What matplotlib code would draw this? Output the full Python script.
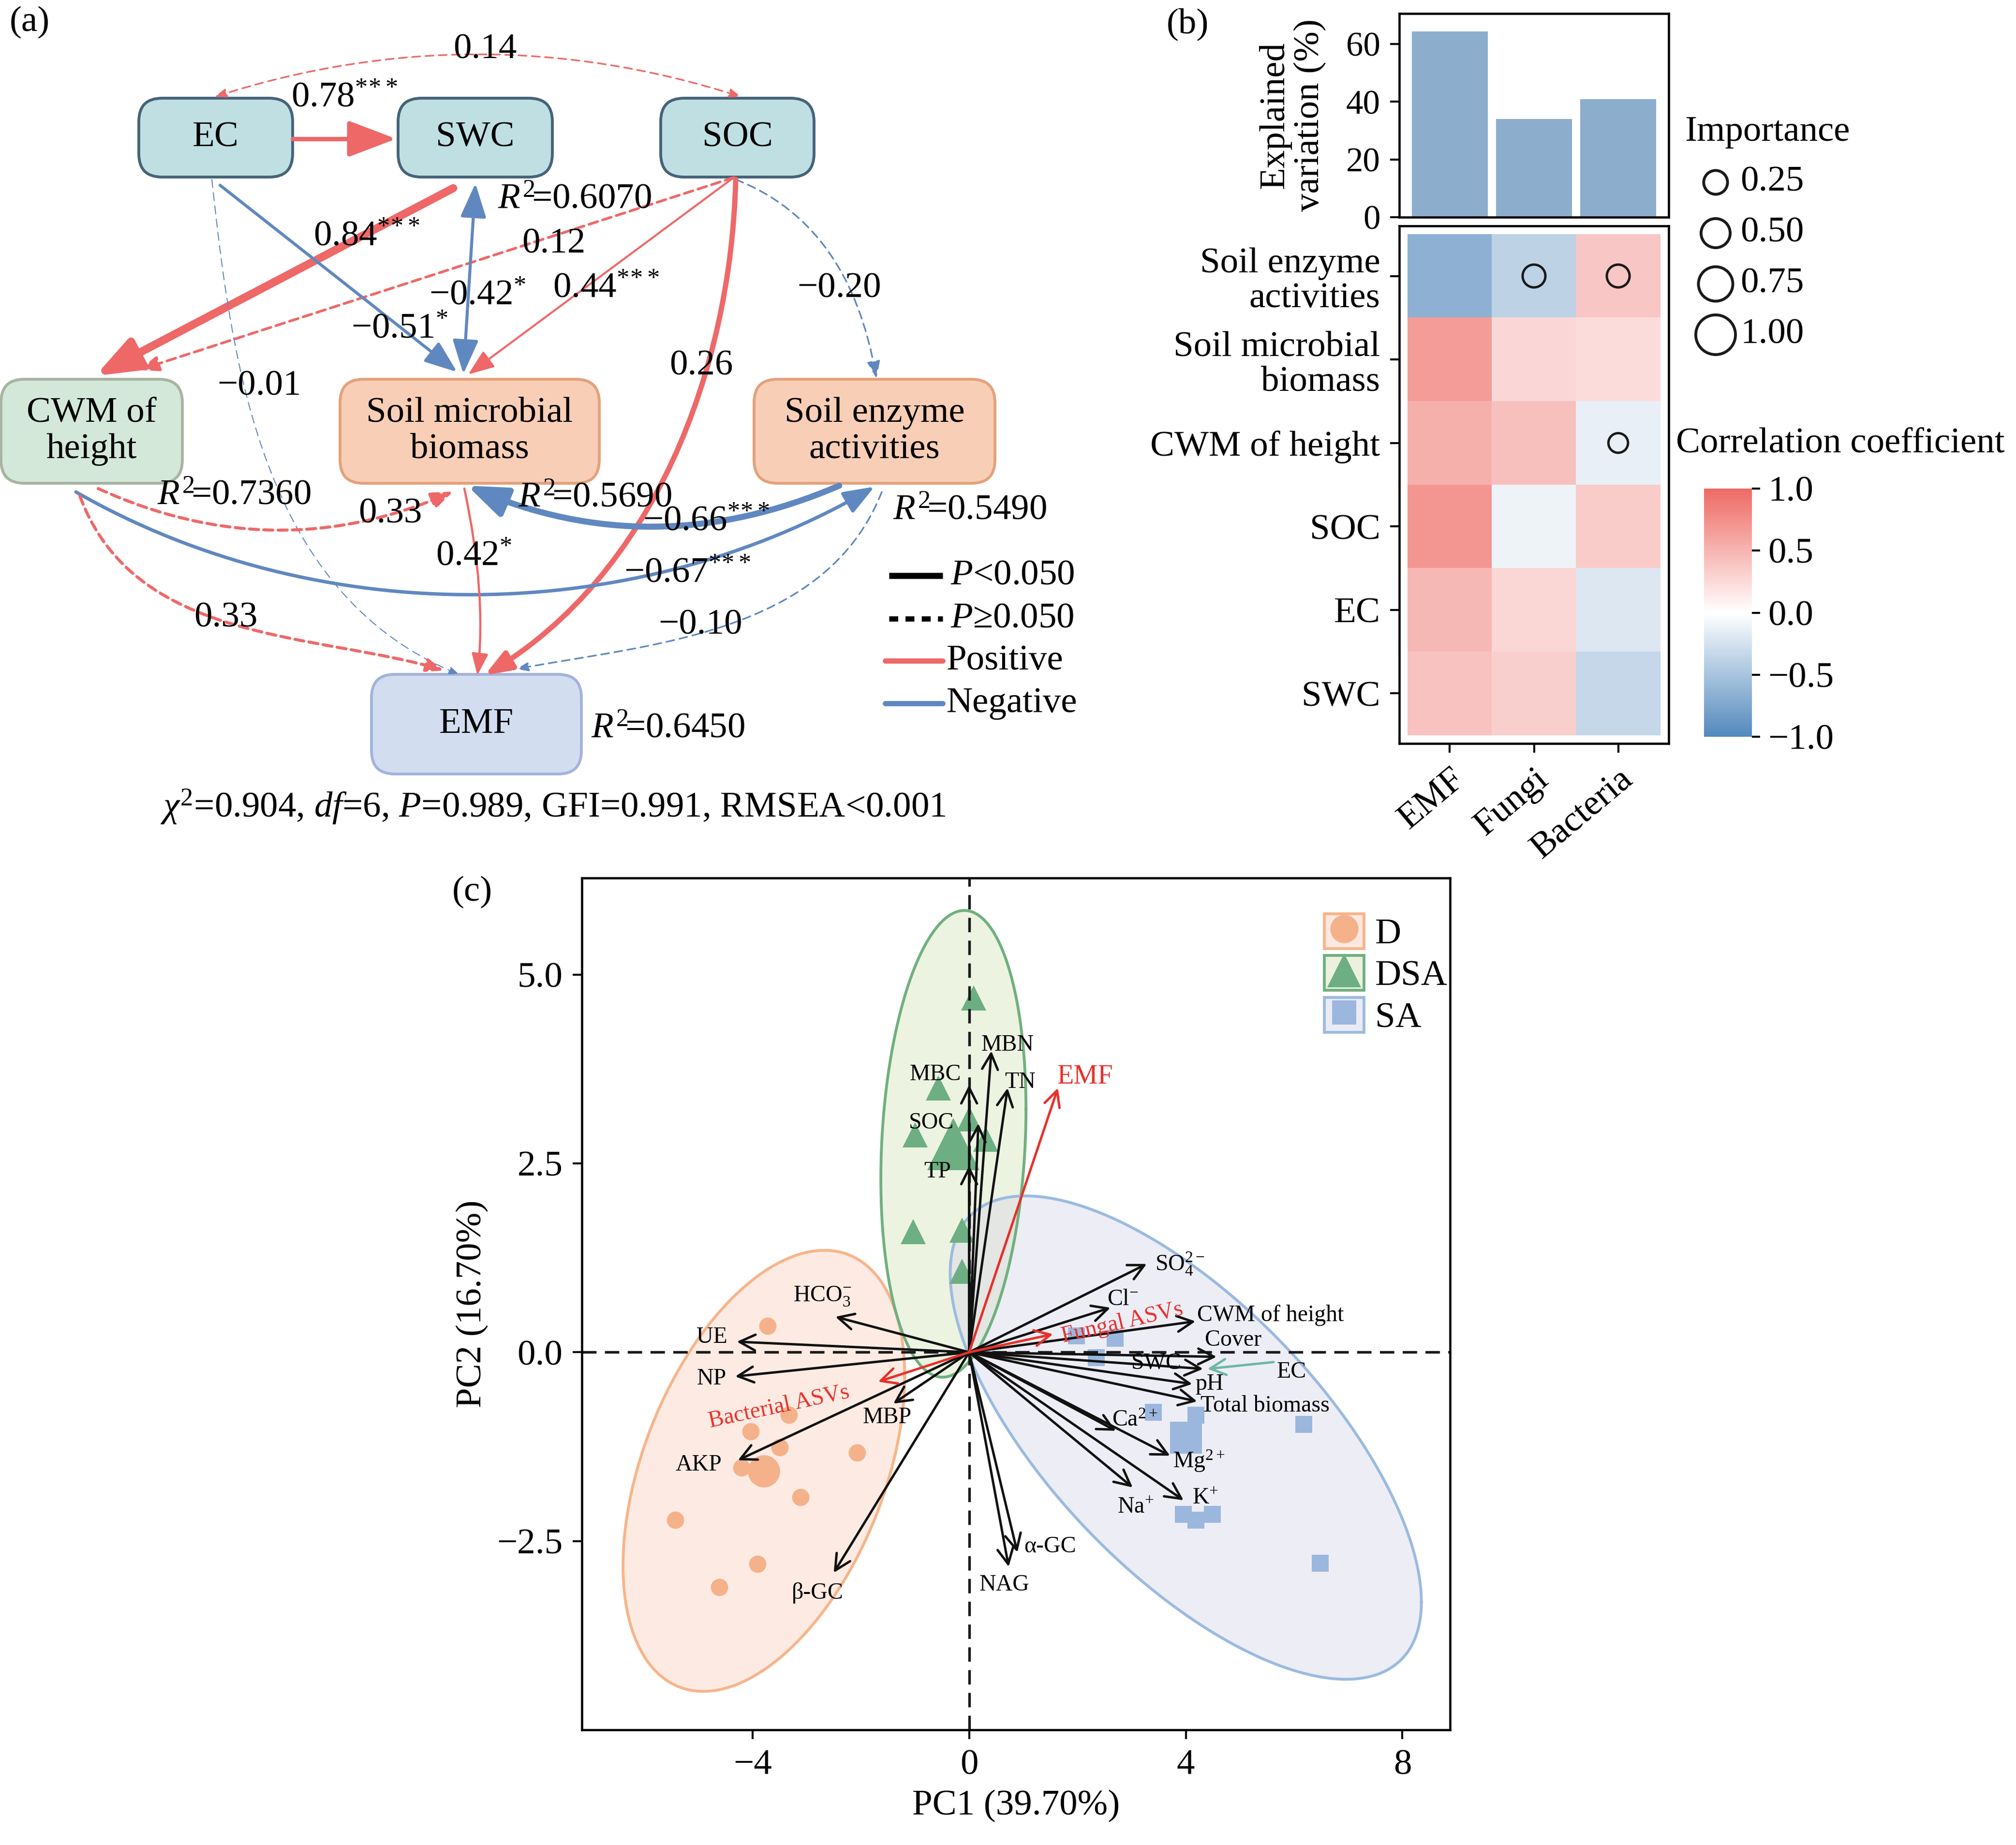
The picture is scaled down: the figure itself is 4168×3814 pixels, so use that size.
import numpy as np
import matplotlib
matplotlib.use('Agg')
import matplotlib.pyplot as plt
from matplotlib.patches import FancyBboxPatch, FancyArrowPatch, Rectangle
from matplotlib.path import Path
from matplotlib.lines import Line2D
from matplotlib.colors import LinearSegmentedColormap
from matplotlib.legend_handler import HandlerTuple

plt.rcParams['font.family'] = ['Liberation Serif', 'DejaVu Serif']
plt.rcParams['mathtext.fontset'] = 'custom'
plt.rcParams['mathtext.rm'] = 'Liberation Serif'
plt.rcParams['mathtext.it'] = 'Liberation Serif:italic'
plt.rcParams['axes.unicode_minus'] = True

MINUS = '\u2212'

# ---------------- data: (a) structural equation model ----------------
sem_nodes = ['EC', 'SWC', 'SOC', 'CWM', 'SMB', 'SEA', 'EMF']
sem_node_labels = ['EC', 'SWC', 'SOC', 'CWM of\nheight', 'Soil microbial\nbiomass',
                   'Soil enzyme\nactivities', 'EMF']
sem_from = ['EC', 'EC', 'SWC', 'SOC', 'EC', 'SWC', 'SOC', 'SOC', 'SOC', 'EC',
            'CWM', 'SEA', 'CWM', 'SMB', 'CWM', 'SEA']
sem_to = ['SOC', 'SWC', 'CWM', 'CWM', 'SMB', 'SMB', 'SMB', 'SEA', 'EMF', 'EMF',
          'SMB', 'SMB', 'SEA', 'EMF', 'EMF', 'EMF']
sem_coef = [0.14, 0.78, 0.84, 0.12, -0.51, -0.42, 0.44, -0.20, 0.26, -0.01,
            0.33, -0.66, -0.67, 0.42, 0.33, -0.10]
sem_stars = ['', '***', '***', '', '*', '*', '***', '', '', '', '', '***', '***', '*', '', '']
sem_p_low = [False, True, True, False, True, True, True, False, True, False,
             False, True, True, True, False, False]
sem_double = [True, False, False, False, False, True, False, False, False, False,
              False, False, False, False, False, False]
r2_nodes = ['SWC', 'CWM', 'SMB', 'SEA', 'EMF']
r2_values = [0.6070, 0.7360, 0.5690, 0.5490, 0.6450]
fit_text = r'$\chi^2$=0.904, $df$=6, $P$=0.989, GFI=0.991, RMSEA<0.001'

# ---------------- data: (b) ----------------
bar_cats = ['EMF', 'Fungi', 'Bacteria']
expl_var = [64.3, 34.0, 40.9]
hm_rows = ['Soil enzyme\nactivities', 'Soil microbial\nbiomass', 'CWM of height', 'SOC', 'EC', 'SWC']
hm_corr = np.array([
    [-0.65, -0.38, 0.38],
    [0.66, 0.26, 0.23],
    [0.53, 0.42, -0.13],
    [0.70, -0.10, 0.34],
    [0.47, 0.27, -0.20],
    [0.40, 0.32, -0.33],
])
imp_row = [0, 0, 2]
imp_col = [1, 2, 2]
imp_val = [0.2, 0.2, 0.05]
imp_legend = [0.25, 0.50, 0.75, 1.00]
cbar_ticks = [-1.0, -0.5, 0.0, 0.5, 1.0]

# ---------------- data: (c) PCA biplot ----------------
d_x = [-3.72, -3.33, -4.03, -3.50, -2.07, -4.20, -3.11, -5.43, -3.91, -4.61]
d_y = [0.35, -0.83, -1.05, -1.26, -1.33, -1.53, -1.92, -2.22, -2.80, -3.11]
dsa_x = [0.08, -0.57, -1.00, 0.00, 0.31, -1.03, -0.13, -0.13]
dsa_y = [4.69, 3.50, 2.88, 3.09, 2.82, 1.60, 1.62, 1.07]
sa_x = [1.98, 2.69, 2.34, 3.40, 4.18, 6.17, 3.95, 4.18, 4.49, 6.48]
sa_y = [0.22, 0.19, -0.07, -0.79, -0.83, -0.95, -2.14, -2.22, -2.14, -2.79]
group_names = ['D', 'DSA', 'SA']
centroid_x = [-3.79, -0.29, 4.00]
centroid_y = [-1.57, 2.76, -1.13]
# ellipse: half extent along PC1, half extent along PC2, correlation
ell_sx = [2.60, 1.34, 4.35]
ell_sy = [2.92, 3.09, 3.20]
ell_r = [0.43, 0.15, -0.68]

var_names = ['MBN', 'TN', 'MBC', 'SOC', 'TP', 'HCO$_3^{-}$', 'UE', 'NP', 'MBP', 'AKP',
             '\u03b2-GC', '\u03b1-GC', 'NAG', 'SO$_4^{2-}$', 'Cl$^{-}$', 'CWM of height',
             'Cover', 'SWC', 'pH', 'Total biomass', 'Ca$^{2+}$', 'Mg$^{2+}$', 'Na$^{+}$', 'K$^{+}$']
var_pc1 = [0.41, 0.71, 0.00, 0.17, 0.00, -2.47, -4.29, -4.32, -1.40, -4.27,
           -2.50, 0.89, 0.73, 3.28, 2.61, 4.18, 4.57, 4.32, 4.12, 4.21, 2.71, 3.71, 3.02, 3.96]
var_pc2 = [3.99, 3.50, 3.54, 3.03, 2.47, 0.47, 0.14, -0.32, -0.68, -1.43,
           -2.92, -2.65, -2.84, 1.17, 0.59, 0.41, -0.06, -0.22, -0.42, -0.65, -1.04, -1.37, -1.79, -1.96]
resp_names = ['EMF', 'Fungal ASVs', 'Bacterial ASVs']
resp_pc1 = [1.64, 1.55, -1.68]
resp_pc2 = [3.50, 0.24, -0.39]
ec_from = (5.62, -0.13)
ec_to = (4.40, -0.22)

# ---------------- figure ----------------
W, H = 4168, 3814
fig = plt.figure(figsize=(W / 300, H / 300), dpi=300)


def fbox(x0, y0, x1, y1):
    return [x0 / W, 1 - y1 / H, (x1 - x0) / W, (y1 - y0) / H]


RED = '#EE6868'
BLUE = '#6088C0'

# ================= (a) =================
axA = fig.add_axes(fbox(0, 0, 2330, 1760))
axA.set_xlim(0, 2330)
axA.set_ylim(1760, 0)
axA.axis('off')

node_box = {'EC': (287, 203, 605, 366), 'SWC': (823, 203, 1142, 366), 'SOC': (1366, 203, 1683, 366),
            'CWM': (2, 784, 377, 999), 'SMB': (703, 784, 1239, 999), 'SEA': (1559, 784, 2057, 999),
            'EMF': (768, 1394, 1202, 1600)}
node_face = {'EC': '#C0DFE2', 'SWC': '#C0DFE2', 'SOC': '#C0DFE2', 'CWM': '#D4E8DA',
             'SMB': '#F9CEB6', 'SEA': '#F9CEB6', 'EMF': '#D2DEF0'}
node_edge = {'EC': '#46637A', 'SWC': '#46637A', 'SOC': '#46637A', 'CWM': '#A8B4A2',
             'SMB': '#E3A27C', 'SEA': '#E3A27C', 'EMF': '#A4B3DC'}

for n, lab in zip(sem_nodes, sem_node_labels):
    x0, y0, x1, y1 = node_box[n]
    axA.add_patch(FancyBboxPatch((x0, y0), x1 - x0, y1 - y0,
                                 boxstyle='round,pad=0,rounding_size=48',
                                 fc=node_face[n], ec=node_edge[n], lw=1.4, zorder=1))
    axA.text((x0 + x1) / 2, (y0 + y1) / 2, lab, ha='center', va='center',
             fontsize=18, linespacing=1.15, zorder=4)

# edge geometry (start, [via points], end) in panel pixels
edge_pts = [
    [(444, 200), (988, 113), (1532, 200)],
    [(605, 287), (819, 287)],
    [(937, 389), (197, 777)],
    [(1517, 367), (287, 765)],
    [(455, 383), (945, 769)],
    [(983, 379), (958, 773)],
    [(1517, 367), (968, 774)],
    [(1521, 371), (1712, 520), (1812, 782)],
    [(1521, 371), (1460, 765), (1290, 1125), (1002, 1396)],
    [(438, 371), (498, 769), (644, 1140), (949, 1394)],
    [(203, 1010), (570, 1095), (937, 1016)],
    [(1735, 1004), (1350, 1087), (966, 1004)],
    [(157, 1017), (699, 1207), (1272, 1202), (1808, 1006)],
    [(960, 1010), (990, 1215), (987, 1396)],
    [(165, 1025), (352, 1238), (631, 1326), (918, 1386)],
    [(1823, 1017), (1636, 1232), (1359, 1331), (1068, 1383)],
]
edge_lw = [0.8, 2.2, 4.0, 1.3, 1.5, 1.5, 1.0, 0.8, 2.6, 0.5, 1.5, 3.0, 1.7, 1.1, 1.5, 0.8]
edge_head = [20, 84, 75, 35, 57, 60, 46, 30, 46, 18, 38, 69, 54, 38, 30, 20]
edge_lab = [(1003, 103), (712, 203), (758, 490), (1145, 505), (826, 681), (987, 612),
            (1253, 597), (1735, 597), (1450, 757), (536, 799), (807, 1063), (1460, 1079),
            (1421, 1186), (980, 1151), (467, 1278), (1448, 1293)]


def bez_path(pts):
    pts = np.asarray(pts, float)
    if len(pts) == 2:
        return Path(pts, [Path.MOVETO, Path.LINETO])
    if len(pts) == 3:
        p0, v, p2 = pts
        p1 = 2 * v - 0.5 * (p0 + p2)
        return Path([p0, p1, p2], [Path.MOVETO, Path.CURVE3, Path.CURVE3])
    p0, v1, v2, p3 = pts
    a = 27 * v1 - 8 * p0 - p3
    b = 27 * v2 - p0 - 8 * p3
    p1 = (2 * a - b) / 18
    p2 = (2 * b - a) / 18
    return Path([p0, p1, p2, p3], [Path.MOVETO, Path.CURVE4, Path.CURVE4, Path.CURVE4])


for i, c in enumerate(sem_coef):
    col = RED if c > 0 else BLUE
    lw = edge_lw[i]
    style = '<|-|>' if sem_double[i] else '-|>'
    if sem_p_low[i]:
        ls = '-'
    else:
        dash = 4.5 if lw > 1 else 4.0
        ls = (0, (dash / lw, 2.6 / lw))
    axA.add_patch(FancyArrowPatch(path=bez_path(edge_pts[i]),
                                  arrowstyle=f'{style},head_length=1.0,head_width=0.38',
                                  mutation_scale=edge_head[i] * 0.24, lw=lw, color=col,
                                  linestyle=ls, zorder=2))
    txt = (MINUS if c < 0 else '') + f'{abs(c):.2f}'
    if sem_stars[i]:
        txt += '$^{' + r'\!'.join(sem_stars[i]) + '}$'
    axA.text(edge_lab[i][0], edge_lab[i][1], txt, ha='center', va='center', fontsize=18, zorder=4)

r2_pos = {'SWC': (1029, 413), 'CWM': (325, 1025), 'SMB': (1071, 1030), 'SEA': (1846, 1056),
          'EMF': (1222, 1507)}
for n, v in zip(r2_nodes, r2_values):
    axA.text(r2_pos[n][0], r2_pos[n][1], r'$R^{2}\!$=' + f'{v:.4f}', ha='left', va='center',
             fontsize=18, zorder=4)

# legend of (a)
axA.plot([1838, 1949], [1190, 1190], color='black', lw=3.0, solid_capstyle='butt')
axA.plot([1838, 1949], [1279, 1279], color='black', lw=2.6, ls=(0, (1.7, 1.4)))
axA.plot([1830, 1949], [1366, 1366], color=RED, lw=2.6, solid_capstyle='round')
axA.plot([1830, 1949], [1454, 1454], color=BLUE, lw=2.6, solid_capstyle='round')
axA.text(1965, 1190, '$P$<0.050', ha='left', va='center', fontsize=18)
axA.text(1965, 1279, '$P$\u22650.050', ha='left', va='center', fontsize=18)
axA.text(1957, 1366, 'Positive', ha='left', va='center', fontsize=18)
axA.text(1957, 1454, 'Negative', ha='left', va='center', fontsize=18)
axA.text(1143, 1668, fit_text, ha='center', va='center', fontsize=18)

fig.text(61 / W, 1 - 46 / H, '(a)', ha='center', va='center', fontsize=18)
fig.text(2455 / W, 1 - 50 / H, '(b)', ha='center', va='center', fontsize=18)
fig.text(976 / W, 1 - 1844 / H, '(c)', ha='center', va='center', fontsize=18)

# ================= (b) =================
cmap = LinearSegmentedColormap.from_list('rb', ['#5389BD', '#FFFFFF', '#EE6A64'])

axBar = fig.add_axes(fbox(2893, 28, 3450, 449))
axBar.bar(range(len(bar_cats)), expl_var, width=0.9, color='#8DADCD')
axBar.set_xlim(-0.6, 2.6)
axBar.set_ylim(0, 70.5)
axBar.set_xticks([])
axBar.set_yticks([0, 20, 40, 60])
axBar.tick_params(axis='y', length=4.5, width=1.0, labelsize=17, pad=5)
axBar.set_ylabel('Explained\nvariation (%)', fontsize=18, linespacing=1.1)
axBar.yaxis.set_label_coords(-0.27, 0.5)
for s in axBar.spines.values():
    s.set_linewidth(1.1)

axH = fig.add_axes(fbox(2893, 467, 3450, 1537))
im = axH.imshow(hm_corr, cmap=cmap, vmin=-1, vmax=1, aspect='auto',
                extent=(-0.5, 2.5, 5.5, -0.5), interpolation='nearest')
axH.set_xlim(-0.6, 2.6)
axH.set_ylim(5.6, -0.6)


def imp_size(v):
    return (9.2 + 10.5 * np.asarray(v)) ** 2


axH.scatter(imp_col, imp_row, s=imp_size(imp_val), facecolors='none', edgecolors='#1A1A1A',
            linewidths=1.2, zorder=3)
axH.set_xticks(range(len(bar_cats)))
axH.set_xticklabels(bar_cats, rotation=40, ha='right', rotation_mode='anchor', fontsize=18)
axH.set_yticks(range(len(hm_rows)))
axH.set_yticklabels(hm_rows, fontsize=18, linespacing=1.1)
axH.tick_params(length=4.5, width=1.0, pad=5)
for s in axH.spines.values():
    s.set_linewidth(1.1)

cax = fig.add_axes(fbox(3523, 1010, 3622, 1523))
cb = fig.colorbar(im, cax=cax, ticks=cbar_ticks)
cb.outline.set_visible(False)
cb.ax.set_yticklabels([f'{t:.1f}'.replace('-', MINUS) for t in cbar_ticks])
cb.ax.tick_params(length=4, width=1.0, labelsize=18, pad=4)
fig.text(3465 / W, 1 - 917 / H, 'Correlation coefficient', ha='left', va='center', fontsize=18)

axI = fig.add_axes(fbox(3480, 325, 3800, 745))
axI.set_xlim(3480, 3800)
axI.set_ylim(745, 325)
axI.axis('off')
leg_y = [377 + 105 * k for k in range(len(imp_legend))]
axI.scatter([3547] * len(imp_legend), leg_y, s=imp_size(imp_legend), facecolors='none',
            edgecolors='#1A1A1A', linewidths=1.4, clip_on=False)
for y, v in zip(leg_y, imp_legend):
    axI.text(3598, y, f'{v:.2f}', ha='left', va='center', fontsize=18)
fig.text(3483 / W, 1 - 273 / H, 'Importance', ha='left', va='center', fontsize=18)

# ================= (c) =================
axC = fig.add_axes(fbox(1203, 1815, 2998, 3576))
axC.set_xlim(-7.15, 8.88)
axC.set_ylim(-5.0, 6.28)

ell_face = ['#FACDBB', '#D4E1B6', '#D4D4E8']
ell_edge = ['#F7B58A', '#70B07F', '#9BBBE0']
pt_color = ['#F5B28A', '#6DAF82', '#9BB7DD']
pt_marker = ['o', '^', 's']
pt_ms = [8.6, 12.5, 8.4]
big_ms = [16, 26, 16]

t = np.linspace(0, 2 * np.pi, 300)
for g in range(3):
    sx, sy, r = ell_sx[g], ell_sy[g], ell_r[g]
    S = np.array([[sx * sx, r * sx * sy], [r * sx * sy, sy * sy]])
    L = np.linalg.cholesky(S)
    xy = L @ np.vstack([np.cos(t), np.sin(t)])
    ex = centroid_x[g] + xy[0]
    ey = centroid_y[g] + xy[1]
    axC.fill(ex, ey, color=ell_face[g], alpha=0.4, lw=0, zorder=1)
    axC.plot(ex, ey, color=ell_edge[g], lw=1.4, zorder=1.5)

for g, (gx, gy) in enumerate([(d_x, d_y), (dsa_x, dsa_y), (sa_x, sa_y)]):
    axC.plot(gx, gy, ls='', marker=pt_marker[g], ms=pt_ms[g], color=pt_color[g], mec='none', zorder=2)
    axC.plot([centroid_x[g]], [centroid_y[g]], ls='', marker=pt_marker[g], ms=big_ms[g],
             color=pt_color[g], mec='none', zorder=2)

axC.axhline(0, color='#1A1A1A', lw=1.3, ls=(0, (5.5, 3.2)), zorder=2.5)
axC.axvline(0, color='#1A1A1A', lw=1.3, ls=(0, (5.5, 3.2)), zorder=2.5)

for x, y in zip(var_pc1, var_pc2):
    axC.annotate('', xy=(x, y), xytext=(0, 0),
                 arrowprops=dict(arrowstyle='->,head_length=0.6,head_width=0.3', lw=1.2,
                                 color='#111111', shrinkA=0, shrinkB=0, mutation_scale=13),
                 zorder=3)
for x, y in zip(resp_pc1, resp_pc2):
    axC.annotate('', xy=(x, y), xytext=(0, 0),
                 arrowprops=dict(arrowstyle='->,head_length=0.6,head_width=0.3', lw=1.2,
                                 color='#E8302A', shrinkA=0, shrinkB=0, mutation_scale=13),
                 zorder=3.2)
axC.annotate('', xy=ec_to, xytext=ec_from,
             arrowprops=dict(arrowstyle='->,head_length=0.6,head_width=0.3', lw=1.2,
                             color='#6DB8A5', shrinkA=0, shrinkB=0, mutation_scale=13), zorder=3)

var_lab = {'MBN': (0.22, 4.07, 'left'), 'TN': (0.66, 3.58, 'left'), 'MBC': (-0.62, 3.68, 'center'),
           'SOC': (-0.70, 3.04, 'center'), 'TP': (-0.59, 2.39, 'center'),
           'HCO$_3^{-}$': (-2.71, 0.74, 'center'), 'UE': (-4.75, 0.20, 'center'),
           'NP': (-4.75, -0.35, 'center'), 'MBP': (-1.51, -0.86, 'center'),
           'AKP': (-4.99, -1.49, 'center'), '\u03b2-GC': (-2.80, -3.19, 'center'),
           '\u03b1-GC': (1.01, -2.57, 'left'), 'NAG': (0.19, -3.08, 'left'),
           'SO$_4^{2-}$': (3.43, 1.17, 'left'), 'Cl$^{-}$': (2.55, 0.70, 'left'),
           'CWM of height': (4.21, 0.49, 'left'), 'Cover': (4.35, 0.16, 'left'),
           'SWC': (3.46, -0.14, 'center'), 'pH': (4.18, -0.42, 'left'),
           'Total biomass': (4.27, -0.71, 'left'), 'Ca$^{2+}$': (2.64, -0.90, 'left'),
           'Mg$^{2+}$': (3.76, -1.44, 'left'), 'Na$^{+}$': (2.74, -2.05, 'left'),
           'K$^{+}$': (4.12, -1.93, 'left')}
for name in var_names:
    lx, ly, ha = var_lab[name]
    axC.text(lx, ly, name, ha=ha, va='center', fontsize=11.5, zorder=4)
axC.text(5.68, -0.26, 'EC', ha='left', va='center', fontsize=11.5, zorder=4)

resp_lab = {'EMF': (1.62, 3.65, 'left', 0, 13.5), 'Fungal ASVs': (2.83, 0.39, 'center', 13, 11.5),
            'Bacterial ASVs': (-3.51, -0.72, 'center', 12, 11.5)}
for name in resp_names:
    lx, ly, ha, rot, fs = resp_lab[name]
    axC.text(lx, ly, name, ha=ha, va='center', fontsize=fs, rotation=rot, color='#E8302A', zorder=4)

axC.set_xticks([-4, 0, 4, 8])
axC.set_xticklabels([f'{v}'.replace('-', MINUS) for v in [-4, 0, 4, 8]])
axC.set_yticks([-2.5, 0.0, 2.5, 5.0])
axC.set_yticklabels([f'{v:.1f}'.replace('-', MINUS) for v in [-2.5, 0.0, 2.5, 5.0]])
axC.tick_params(length=4.5, width=1.0, labelsize=18, pad=5)
axC.set_xlabel('PC1 (39.70%)', fontsize=18)
axC.set_ylabel('PC2 (16.70%)', fontsize=18)
for s in axC.spines.values():
    s.set_linewidth(1.1)

handles = []
for g in range(3):
    box = Rectangle((0, 0), 1, 1, facecolor=ell_face[g], edgecolor=ell_edge[g], lw=1.4)
    box.set_facecolor((*matplotlib.colors.to_rgb(ell_face[g]), 0.45))
    mk = Line2D([], [], ls='', marker=pt_marker[g], ms=[14, 17, 12][g], color=pt_color[g], mec='none')
    handles.append((box, mk))
axC.legend(handles, group_names, handler_map={tuple: HandlerTuple(ndivide=1, pad=0)},
           loc='upper left', bbox_to_anchor=(0.855, 0.958), frameon=False, fontsize=18,
           handlelength=1.1, handleheight=1.1, labelspacing=0.12, handletextpad=0.3,
           borderpad=0, borderaxespad=0)

fig.savefig('out.png', dpi=300)
